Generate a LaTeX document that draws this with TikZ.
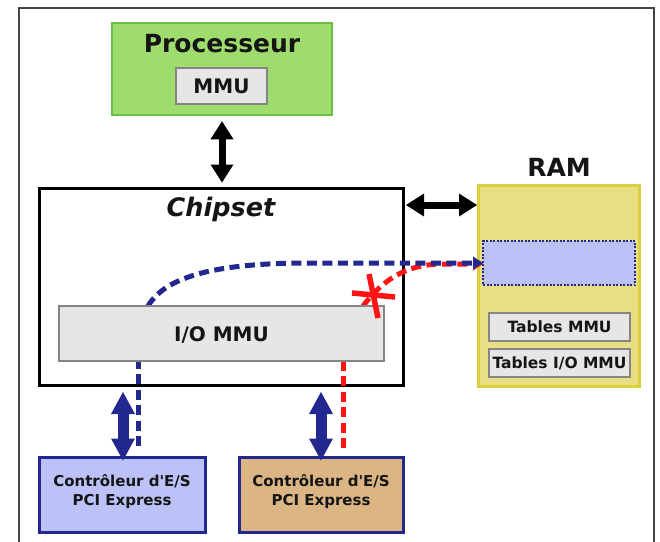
\documentclass[tikz,border=0pt]{standalone}
\usepackage{fontspec}
\setmainfont{DejaVu Sans}
\usetikzlibrary{arrows.meta}
\definecolor{procfill}{HTML}{9EDC6E}
\definecolor{procdraw}{HTML}{6DBE45}
\definecolor{grayfill}{HTML}{E6E6E6}
\definecolor{graydraw}{HTML}{858585}
\definecolor{ramfill}{HTML}{E7DF82}
\definecolor{ramdraw}{HTML}{D9CF3F}
\definecolor{navy}{HTML}{22288F}
\definecolor{lav}{HTML}{BCC1F8}
\definecolor{tan}{HTML}{DBB684}
\definecolor{redx}{HTML}{FF1414}
\definecolor{framecol}{HTML}{454545}
\definecolor{txt}{HTML}{151515}
\tikzset{
  box/.style={rectangle, inner sep=0pt},
  graybox/.style={box, fill=grayfill, draw=graydraw, line width=1.3pt},
  lbl/.style={inner sep=0pt, anchor=base, text=txt},
  ctrlbox/.style={box, draw=navy, line width=3pt},
  ctrltext/.style={inner sep=0pt, align=center, text=txt, font=\bfseries\fontsize{15}{19}\selectfont},
  fatblack/.style={line width=7pt, black, {Triangle[width=23pt,length=18pt,line width=0pt]}-{Triangle[width=23pt,length=18pt,line width=0pt]}},
  fatblue/.style={line width=11pt, navy, {Triangle[width=24pt,length=22pt,line width=0pt]}-{Triangle[width=24pt,length=22pt,line width=0pt]}},
  dashline/.style={line width=5pt, dash pattern=on 10pt off 5.5pt},
  tip/.style={-{Triangle[width=13pt,length=10pt,line width=0pt]}},
}
\begin{document}
\begin{tikzpicture}[x=1pt,y=-1pt]
\useasboundingbox (0,0) rectangle (660,541);
% outer frame
\draw[framecol, line width=1.4pt] (19,560) -- (19,8) -- (654,8) -- (654,560);

% processor
\node[box, fill=procfill, draw=procdraw, line width=2.5pt, minimum width=220pt, minimum height=92pt] (proc) at (222,69) {};
\node[lbl, font=\bfseries\fontsize{25}{29}\selectfont] (proct) at (222,52) {Processeur};
\node[graybox, minimum width=91pt, minimum height=36pt] (mmu) at (221.5,86) {};
\node[lbl, font=\bfseries\fontsize{20}{24}\selectfont] (mmut) at (221.5,93) {MMU};

% chipset
\node[box, draw=black, line width=3pt, minimum width=364pt, minimum height=197pt] (chip) at (221,286.5) {};
\node[lbl, font=\bfseries\itshape\fontsize{25.5}{29}\selectfont] (chipt) at (221,216) {Chipset};

% RAM
\node[lbl, font=\bfseries\fontsize{25}{29}\selectfont] (ramt) at (559,176) {RAM};
\node[box, fill=ramfill, draw=ramdraw, line width=3pt, minimum width=161pt, minimum height=201pt] (ram) at (559,286) {};
\node[box, fill=lav, draw=navy, line width=1.3pt, dash pattern=on 2pt off 1.5pt, minimum width=152pt, minimum height=44pt] (reg) at (559,263) {};
\node[graybox, minimum width=141pt, minimum height=28pt] (tmmu) at (559.5,327) {};
\node[lbl, font=\bfseries\fontsize{15.5}{18}\selectfont] (tmmut) at (559.5,332.5) {Tables MMU};
\node[graybox, minimum width=141pt, minimum height=28pt] (tio) at (559.5,363) {};
\node[lbl, font=\bfseries\fontsize{15.5}{18}\selectfont] (tiot) at (559.5,368.5) {Tables I/O MMU};

% controllers
\node[ctrlbox, fill=lav, minimum width=166pt, minimum height=75pt] (c1) at (122,494.5) {};
\node[ctrltext] (c1t) at (122,492) {Contrôleur d\textquotesingle E/S\\PCI Express};
\node[ctrlbox, fill=tan, minimum width=164pt, minimum height=75pt] (c2) at (321,494.5) {};
\node[ctrltext] (c2t) at (321,492) {Contrôleur d\textquotesingle E/S\\PCI Express};

% fat arrows
\draw[fatblack] ([yshift=-5pt]proc.south) -- ([yshift=4pt]chip.north -| proc.south);
\coordinate (ha) at (406,205);
\coordinate (hb) at (477,205);
\draw[fatblack] (ha) -- (hb);
\coordinate (a1) at (123,392);
\coordinate (a2) at (321,392);
\draw[fatblue] (a1) -- ([yshift=-5pt]a1 |- c1.north);
\draw[fatblue] (a2) -- ([yshift=-5pt]a2 |- c2.north);

% dashed paths
\coordinate (b0) at (138,446);
\coordinate (r0) at (343,448);
\coordinate (bs) at (148,306);
\coordinate (rs) at (363,306);
\coordinate (be) at (483,263);
\coordinate (re) at (483,264);
\draw[dashline, navy] (b0) -- (b0 |- chip.south) -- (138,340);
\draw[dashline, redx] (r0) -- (r0 |- chip.south) -- (343,340);
\draw[dashline, redx, tip] (rs) .. controls (383,280) and (405,265) .. (440,264) -- (re);
\draw[dashline, navy, tip] (bs) .. controls (165,278) and (210,264) .. (300,263) -- (be);

% I/O MMU
\node[graybox, minimum width=325pt, minimum height=55pt] (iommu) at (221.5,333.5) {};
\node[lbl, font=\bfseries\fontsize{20}{24}\selectfont] (iommut) at (221.5,341) {I/O MMU};

% red cross
\draw[redx, line width=5.5pt] (369,274) -- (378,318);
\draw[redx, line width=5.5pt] (352,293) -- (395,297);
\end{tikzpicture}
\end{document}
